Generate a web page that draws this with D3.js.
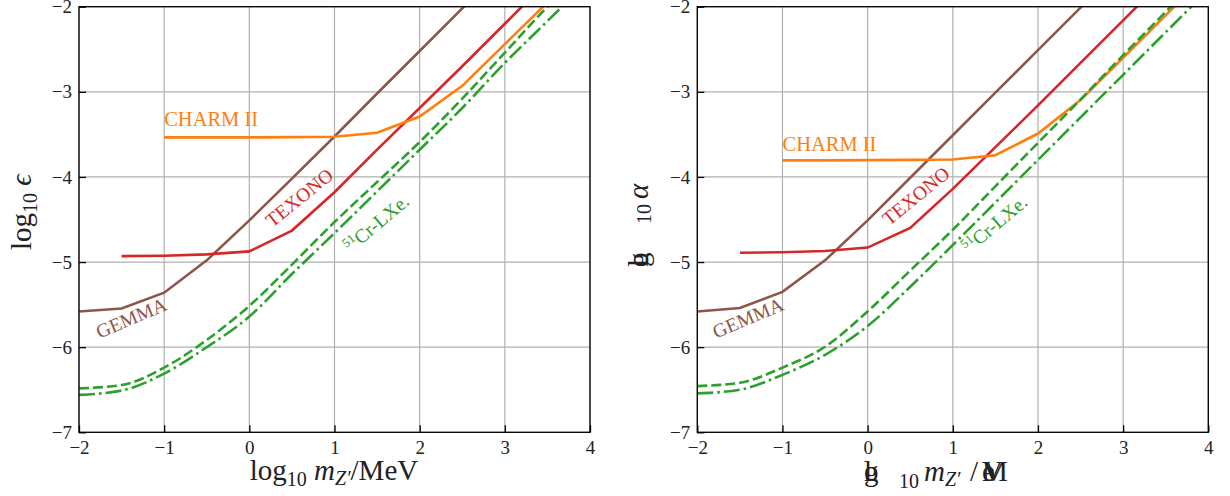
<!DOCTYPE html>
<html>
<head>
<meta charset="utf-8">
<script src="https://cdn.jsdelivr.net/npm/d3@7"></script>
<style>
  body { margin: 0; background: #fff; }
  svg text { font-family: "Liberation Serif", "DejaVu Serif", serif; }
</style>
</head>
<body>
<svg id="chart" width="1230" height="496"></svg>
<script>
// tick values
var xTicks = [-2, -1, 0, 1, 2, 3, 4];
var yTicks = [-7, -6, -5, -4, -3, -2];

// x positions (log10 m_Z' / MeV)
var gemmaX  = [-2, -1.5, -1, -0.5, 0, 0.5, 1, 1.5, 2, 2.5, 3];
var texonoX = [-1.5, -1, -0.5, 0, 0.5, 1, 1.5, 2, 2.5, 3, 3.5];
var charmX  = [-1, -0.5, 0, 0.5, 1, 1.5, 2, 2.5, 3, 3.5, 4];
var crX     = [-2, -1.5, -1, -0.5, 0, 0.5, 1, 1.5, 2, 2.5, 3, 3.5, 4];

// left panel: log10 epsilon
var gemmaL  = [-5.58, -5.545, -5.36, -4.98, -4.51, -4.02, -3.525, -3.02, -2.52, -2.02, -1.52];
var texonoL = [-4.93, -4.925, -4.91, -4.875, -4.63, -4.18, -3.68, -3.19, -2.7, -2.2, -1.7];
var charmL  = [-3.535, -3.535, -3.535, -3.532, -3.528, -3.48, -3.29, -2.93, -2.44, -1.95, -1.46];
var crDashL = [-6.484, -6.445, -6.24, -5.915, -5.515, -5.03, -4.53, -4.06, -3.59, -3.08, -2.54, -2.0, -1.5];
var crDotL  = [-6.56, -6.51, -6.31, -6.0, -5.64, -5.14, -4.66, -4.17, -3.68, -3.19, -2.66, -2.17, -1.67];

// right panel: log10 alpha
var gemmaR  = [-5.58, -5.54, -5.35, -4.98, -4.51, -4.01, -3.51, -3.01, -2.51, -2.01, -1.51];
var texonoR = [-4.89, -4.885, -4.87, -4.83, -4.6, -4.14, -3.65, -3.16, -2.66, -2.16, -1.66];
var charmR  = [-3.805, -3.805, -3.803, -3.8, -3.795, -3.745, -3.49, -3.096, -2.6, -2.1, -1.6];
var crDashR = [-6.457, -6.418, -6.24, -5.995, -5.58, -5.1, -4.62, -4.11, -3.6, -3.09, -2.57, -2.06, -1.55];
var crDotR  = [-6.543, -6.5, -6.325, -6.09, -5.752, -5.29, -4.8, -4.3, -3.8, -3.3, -2.8, -2.3, -1.8];

var labelNames = ["CHARM II", "TEXONO", "Cr-LXe.", "GEMMA"];

var svg = d3.select("#chart");
var W = 511, H = 425.6;

function zip(xs, ys) { return xs.map(function(x, i) { return [x, ys[i]]; }); }

function panel(left, top, id, s) {
  var x = d3.scaleLinear().domain([-2, 4]).range([0, W]);
  var y = d3.scaleLinear().domain([-7, -2]).range([H, 0]);
  var g = svg.append("g").attr("transform", "translate(" + left + "," + top + ")");

  g.append("clipPath").attr("id", id).append("rect").attr("width", W).attr("height", H);

  // grid
  g.selectAll(".gx").data(xTicks).enter().append("line")
    .attr("x1", x).attr("x2", x).attr("y1", 0).attr("y2", H)
    .attr("stroke", "#b0b0b0").attr("stroke-width", 1.2);
  g.selectAll(".gy").data(yTicks).enter().append("line")
    .attr("y1", y).attr("y2", y).attr("x1", 0).attr("x2", W)
    .attr("stroke", "#b0b0b0").attr("stroke-width", 1.2);

  var plot = g.append("g").attr("clip-path", "url(#" + id + ")");
  var line = d3.line().x(function(d) { return x(d[0]); }).y(function(d) { return y(d[1]); });
  var smooth = d3.line().curve(d3.curveMonotoneX).x(function(d) { return x(d[0]); }).y(function(d) { return y(d[1]); });

  function draw(pts, color, gen, dash) {
    plot.append("path").attr("d", gen(pts)).attr("fill", "none")
      .attr("stroke", color).attr("stroke-width", 2.6)
      .attr("stroke-dasharray", dash || null);
  }
  draw(zip(gemmaX, s.gemma), "#8c564b", line);
  draw(zip(texonoX, s.texono), "#d62728", line);
  draw(zip(charmX, s.charm), "#ff7f0e", line);
  draw(zip(crX, s.crDash), "#2ca02c", smooth, "10,4");
  draw(zip(crX, s.crDot), "#2ca02c", smooth, "16,4,2.6,4");

  // spines
  g.append("rect").attr("width", W).attr("height", H)
    .attr("fill", "none").attr("stroke", "#000").attr("stroke-width", 1.3);

  // axes with inward ticks
  var fmt = d3.format("d");
  var xa = g.append("g").attr("transform", "translate(0," + H + ")")
    .call(d3.axisBottom(x).tickValues(xTicks).tickSize(-7).tickPadding(8).tickFormat(fmt));
  var ya = g.append("g")
    .call(d3.axisLeft(y).tickValues(yTicks).tickSize(-7).tickPadding(7).tickFormat(fmt));
  [xa, ya].forEach(function(a) {
    a.select(".domain").remove();
    a.selectAll(".tick line").attr("stroke", "#000").attr("stroke-width", 1.3);
    a.selectAll(".tick text").attr("font-size", 19).attr("fill", "#222")
      .style("font-family", "'Liberation Serif', serif");
  });

  // annotations
  g.append("text").attr("x", x(-1)).attr("y", y(s.charmLab))
    .attr("fill", "#ff7f0e").attr("font-size", 20.5).text(labelNames[0]);
  g.append("text").attr("transform", "translate(" + x(s.texPos[0]) + "," + y(s.texPos[1]) + ") rotate(-39)")
    .attr("fill", "#d62728").attr("font-size", 19.5).text(labelNames[1]);
  var cr = g.append("text").attr("transform", "translate(" + x(s.crPos[0]) + "," + y(s.crPos[1]) + ") rotate(-40)")
    .attr("fill", "#2ca02c").attr("font-size", 19.5);
  cr.append("tspan").attr("font-size", 13).attr("dy", -7).text("51");
  cr.append("tspan").attr("dy", 7).text(labelNames[2]);
  g.append("text").attr("transform", "translate(" + x(s.gemPos[0]) + "," + y(s.gemPos[1]) + ") rotate(-23)")
    .attr("fill", "#8c564b").attr("font-size", 19.5).text(labelNames[3]);
  return g;
}

var gl = panel(79, 6.7, "clipL", {
  gemma: gemmaL, texono: texonoL, charm: charmL, crDash: crDashL, crDot: crDotL,
  charmLab: -3.4, texPos: [0.27, -4.6], crPos: [1.19, -4.9], gemPos: [-1.76, -5.9]
});
var gr = panel(697.3, 6.7, "clipR", {
  gemma: gemmaR, texono: texonoR, charm: charmR, crDash: crDashR, crDot: crDotR,
  charmLab: -3.7, texPos: [0.25, -4.58], crPos: [1.19, -4.91], gemPos: [-1.78, -5.9]
});

// left axis labels
var xl = svg.append("text").attr("x", 334).attr("y", 480).attr("text-anchor", "middle")
  .attr("font-size", 29).attr("fill", "#222");
xl.append("tspan").text("log");
xl.append("tspan").attr("font-size", 20).attr("dy", 6).text("10");
xl.append("tspan").attr("dy", -6).attr("font-style", "italic").text(" m");
xl.append("tspan").attr("font-size", 20).attr("dy", 5).attr("font-style", "italic").text("Z′");
xl.append("tspan").attr("dy", -5).text("/MeV");

var yl = svg.append("text").attr("transform", "translate(31,212) rotate(-90)")
  .attr("text-anchor", "middle").attr("font-size", 29).attr("fill", "#222");
yl.append("tspan").text("log");
yl.append("tspan").attr("font-size", 20).attr("dy", 6).text("10");
yl.append("tspan").attr("dy", -6).attr("font-style", "italic").text(" ϵ");

// right axis labels (overlapping glyphs as in the reference)
["l", "o", "g"].forEach(function(c) {
  svg.append("text").attr("x", 864).attr("y", 481).attr("font-size", 29).attr("fill", "#222").text(c);
});
svg.append("text").attr("x", 899).attr("y", 488).attr("font-size", 20).attr("fill", "#222").text("10");
var xr = svg.append("text").attr("x", 924).attr("y", 481).attr("font-size", 29).attr("fill", "#222");
xr.append("tspan").attr("font-style", "italic").text("m");
xr.append("tspan").attr("font-size", 20).attr("dy", 5).attr("font-style", "italic").text("Z′");
svg.append("text").attr("x", 970).attr("y", 481).attr("font-size", 29).attr("fill", "#222").text("/");
["e", "V", "M"].forEach(function(c) {
  svg.append("text").attr("x", 982).attr("y", 481).attr("font-size", 29).attr("fill", "#222").text(c);
});

["l", "o", "g"].forEach(function(c) {
  svg.append("text").attr("transform", "translate(648,267) rotate(-90)")
    .attr("font-size", 29).attr("fill", "#222").text(c);
});
svg.append("text").attr("transform", "translate(651,224) rotate(-90)")
  .attr("font-size", 20).attr("fill", "#222").text("10");
svg.append("text").attr("transform", "translate(648,199) rotate(-90)")
  .attr("font-size", 29).attr("font-style", "italic").attr("fill", "#222").text("α");
</script>
</body>
</html>
